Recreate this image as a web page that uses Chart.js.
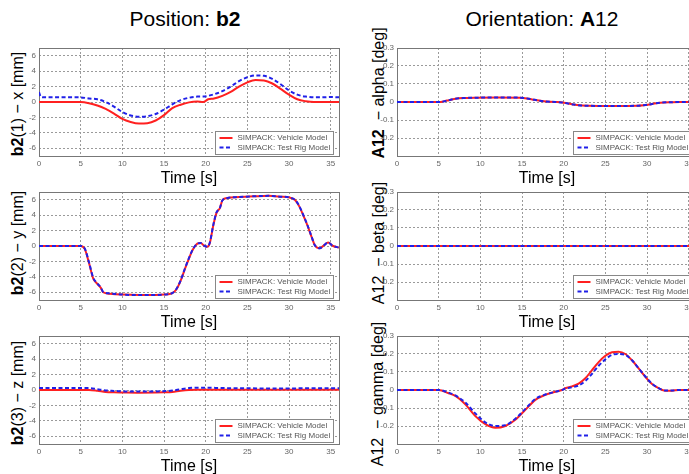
<!DOCTYPE html>
<html><head><meta charset="utf-8">
<script src="https://cdn.jsdelivr.net/npm/chart.js@4"></script>
<style>
html,body{margin:0;padding:0;background:#fff;width:689px;height:474px;overflow:hidden;position:relative;font-family:"Liberation Sans",Arial,sans-serif;}
canvas{position:absolute;}
.t{position:absolute;white-space:nowrap;line-height:1;transform:translate(-50%,-50%);color:#000;}
.yl{position:absolute;white-space:nowrap;line-height:1;font-size:16px;color:#000;transform:translate(-50%,-50%) rotate(-90deg);}
</style></head>
<body>
<div class="t" style="left:185px;top:17.5px;font-size:21px">Position: <b>b2</b></div>
<div class="t" style="left:542px;top:17.5px;font-size:21px">Orientation: <b>A</b>12</div>
<div class="yl" style="left:18px;top:104px"><b>b2</b>(1) − x [mm]</div>
<div class="yl" style="left:18px;top:243px"><b>b2</b>(2) − y [mm]</div>
<div class="yl" style="left:18px;top:393px"><b>b2</b>(3) − z [mm]</div>
<div class="yl" style="left:379px;top:93px"><b>A12</b>&nbsp; − alpha [deg]</div>
<div class="yl" style="left:379px;top:243px">A12&nbsp; − beta [deg]</div>
<div class="yl" style="left:378px;top:394px">A12&nbsp; − gamma [deg]</div>
<canvas id="c1" width="345" height="150" style="left:0px;top:38px"></canvas>
<canvas id="c2" width="358" height="150" style="left:345px;top:38px"></canvas>
<canvas id="c3" width="345" height="150" style="left:0px;top:182px"></canvas>
<canvas id="c4" width="358" height="150" style="left:345px;top:182px"></canvas>
<canvas id="c5" width="345" height="150" style="left:0px;top:326px"></canvas>
<canvas id="c6" width="358" height="150" style="left:345px;top:326px"></canvas>
<script>
const FONT = '"Liberation Sans", Arial, sans-serif';
const seriesNames = ['SIMPACK: Vehicle Model', 'SIMPACK: Test Rig Model'];
const xTicks = [0, 5, 10, 15, 20, 25, 30, 35];
const posTicks = [-6, -4, -2, 0, 2, 4, 6];
const oriTicks = [-0.2, -0.1, 0, 0.1, 0.2, 0.3];

// b2(1) - x [mm]
const tX = [0, 0.2, 0.5, 2, 4, 5, 6, 7, 8, 9, 10, 11, 12, 13, 14, 15, 16, 17, 18, 19, 19.7, 20.3, 21, 22, 23, 24, 25, 26, 27, 28, 29, 30, 31, 32, 33, 34, 35, 36];
const vehX = [0, 0, 0, 0, 0, 0, -0.15, -0.45, -0.9, -1.5, -2.2, -2.6, -2.8, -2.75, -2.4, -1.7, -0.8, -0.35, -0.05, 0.05, 0.0, 0.35, 0.45, 0.8, 1.3, 2.0, 2.55, 2.85, 2.8, 2.4, 1.7, 0.95, 0.35, 0.1, 0, 0, 0, 0];
const rigX = [1.3, 0.7, 0.6, 0.6, 0.6, 0.6, 0.45, 0.35, 0, -0.6, -1.3, -1.75, -1.9, -1.85, -1.55, -1.0, -0.3, 0.25, 0.55, 0.7, 0.7, 0.8, 1.0, 1.4, 2.0, 2.7, 3.2, 3.45, 3.4, 3.0, 2.3, 1.5, 0.95, 0.7, 0.6, 0.6, 0.65, 0.6];

// b2(2) - y [mm]
const tY = [0, 5, 5.5, 6, 6.5, 7, 7.4, 7.7, 8.5, 10, 12, 14, 15, 16, 16.5, 17, 17.5, 18, 18.5, 19, 19.4, 19.8, 20.2, 20.5, 20.9, 21.3, 21.7, 22, 22.5, 24, 26, 27.5, 29, 30, 30.7, 31.2, 31.7, 32.2, 32.7, 33.1, 33.7, 34.2, 34.7, 35.3, 36];
const vehY = [0, 0, -0.4, -2.2, -4.2, -4.9, -5.4, -6.0, -6.2, -6.3, -6.35, -6.35, -6.3, -6.1, -5.6, -4.5, -3.0, -1.6, -0.4, 0.3, 0.4, 0.05, -0.1, 0.4, 2.6, 4.3, 4.9, 5.9, 6.2, 6.35, 6.45, 6.5, 6.4, 6.3, 6.0, 5.2, 4.0, 2.7, 1.2, 0.1, -0.3, 0.1, 0.45, 0.0, -0.2];
const rigY = [0, 0, -0.35, -2.1, -4.1, -4.85, -5.35, -5.95, -6.15, -6.3, -6.35, -6.35, -6.3, -6.1, -5.55, -4.45, -2.95, -1.55, -0.35, 0.3, 0.4, 0.05, -0.1, 0.45, 2.65, 4.35, 4.9, 5.9, 6.2, 6.35, 6.45, 6.5, 6.4, 6.3, 6.0, 5.25, 4.05, 2.75, 1.25, 0.1, -0.3, 0.1, 0.45, 0.0, -0.2];

// b2(3) - z [mm]
const tZ = [0, 6, 7, 8, 9, 10, 12, 14, 15, 16, 17, 18, 19, 20, 22, 25, 28, 30, 32, 34, 36];
const vehZ = [0, 0, -0.1, -0.25, -0.3, -0.32, -0.35, -0.33, -0.3, -0.25, -0.1, 0, 0.03, 0.03, 0.02, 0.02, 0.02, 0.02, 0.02, 0.03, 0.03];
const rigZ = [0.25, 0.25, 0.1, -0.05, -0.12, -0.18, -0.2, -0.18, -0.15, -0.08, 0.1, 0.25, 0.3, 0.3, 0.25, 0.22, 0.2, 0.2, 0.22, 0.22, 0.22];

// A12 - alpha [deg]
const tA = [0, 5.2, 6, 7, 8, 9.5, 12, 14.8, 15.6, 16.5, 17.6, 19, 20, 21, 21.6, 23, 26, 28.8, 29.6, 30.5, 31.6, 33, 34, 36];
const vehA = [0, 0, 0.008, 0.018, 0.022, 0.024, 0.025, 0.024, 0.02, 0.012, 0.004, 0, -0.004, -0.012, -0.017, -0.021, -0.022, -0.021, -0.018, -0.012, -0.004, -0.001, 0, 0];
const rigA = [0, 0, 0.008, 0.018, 0.022, 0.024, 0.025, 0.024, 0.02, 0.012, 0.004, 0, -0.004, -0.012, -0.017, -0.021, -0.022, -0.021, -0.018, -0.012, -0.004, -0.001, 0, 0];

// A12 - beta [deg]
const tB = [0, 9, 18, 27, 36];
const vehB = [0, 0, 0, 0, 0];
const rigB = [0, 0, 0, 0, 0];

// A12 - gamma [deg]
const tG = [0, 5, 6.2, 7, 8.2, 9.4, 10.6, 11.8, 13, 14.2, 15.4, 16.6, 17.8, 19, 19.8, 20.2, 21, 21.8, 22.6, 23.4, 24.2, 25, 25.8, 26.6, 27.4, 28.2, 29, 29.8, 30.6, 31.4, 32.2, 33, 33.8, 36];
const vehG = [0, 0, -0.018, -0.033, -0.08, -0.145, -0.19, -0.21, -0.2, -0.165, -0.11, -0.055, -0.027, -0.01, 0, 0.01, 0.02, 0.035, 0.065, 0.11, 0.155, 0.19, 0.21, 0.213, 0.2, 0.165, 0.12, 0.073, 0.033, 0.01, -0.004, -0.004, 0, 0];
const rigG = [0, 0, -0.015, -0.03, -0.07, -0.13, -0.18, -0.2, -0.195, -0.16, -0.105, -0.05, -0.025, -0.01, 0, 0.008, 0.015, 0.025, 0.05, 0.09, 0.135, 0.17, 0.195, 0.2, 0.195, 0.165, 0.12, 0.075, 0.035, 0.01, -0.003, -0.003, 0, 0];

const boxPlugin = {
  id: 'box',
  beforeDatasetsDraw(chart) {
    const a = chart.chartArea, c = chart.ctx;
    c.save();
    c.strokeStyle = '#777'; c.lineWidth = 1;
    c.strokeRect(Math.round(a.left) + 0.5, Math.round(a.top) + 0.5, Math.round(a.right - a.left), Math.round(a.bottom - a.top));
    c.restore();
  }
};
const legendPlugin = {
  id: 'legbox',
  afterDraw(chart) {
    const a = chart.chartArea, c = chart.ctx;
    const w = 118, h = 23;
    const x = Math.round(a.right - 6 - w) + 0.5, y = Math.round(a.bottom - 2 - h) + 0.5;
    c.save();
    c.fillStyle = '#fff'; c.fillRect(x, y, w, h);
    c.strokeStyle = '#888'; c.lineWidth = 1; c.strokeRect(x, y, w, h);
    c.font = '8px ' + FONT; c.textBaseline = 'middle'; c.textAlign = 'left';
    chart.data.datasets.forEach((ds, i) => {
      const ly = y + 6.5 + i * 9.5;
      c.strokeStyle = ds.borderColor; c.lineWidth = ds.borderWidth;
      c.setLineDash(ds.borderDash || []);
      c.beginPath(); c.moveTo(x + 4, ly); c.lineTo(x + 17, ly); c.stroke();
      c.setLineDash([]);
      c.fillStyle = '#555';
      c.fillText(ds.label, x + 22, ly);
    });
    c.restore();
  }
};

function makeChart(id, padLeft, t, veh, rig, yMin, yMax, yTicks) {
  const pts = arr => t.map((tv, i) => ({x: tv, y: arr[i]}));
  new Chart(document.getElementById(id), {
    type: 'line',
    data: {
      datasets: [
        {label: seriesNames[0], data: pts(veh), borderColor: '#ff2020', borderWidth: 2, pointRadius: 0, cubicInterpolationMode: 'monotone', order: 2},
        {label: seriesNames[1], data: pts(rig), borderColor: '#2020e8', borderWidth: 2, borderDash: [4, 2.5], pointRadius: 0, cubicInterpolationMode: 'monotone', order: 1}
      ]
    },
    options: {
      responsive: false, animation: false, devicePixelRatio: 1,
      layout: {padding: {left: padLeft, right: 6, top: 10, bottom: 0}},
      plugins: {legend: {display: false}, tooltip: {enabled: false}, title: {display: false}},
      scales: {
        x: {
          type: 'linear', min: 0, max: 36,
          afterBuildTicks: ax => { ax.ticks = xTicks.map(v => ({value: v})); },
          afterFit: s => { s.height = 32; },
          ticks: {font: {size: 8, family: FONT}, color: '#666', padding: 3, maxRotation: 0, autoSkip: false},
          grid: {color: '#9a9a9a', drawTicks: false, lineWidth: 1},
          border: {display: false, dash: [2, 2]},
          title: {display: true, text: 'Time [s]', font: {size: 16, family: FONT}, color: '#000', padding: 0}
        },
        y: {
          type: 'linear', min: yMin, max: yMax,
          afterBuildTicks: ax => { ax.ticks = yTicks.map(v => ({value: v})); },
          afterFit: s => { s.width = 20; },
          ticks: {font: {size: 8, family: FONT}, color: '#666', padding: 3, callback: v => (v === 0 ? '0' : String(v))},
          grid: {color: '#9a9a9a', drawTicks: false, lineWidth: 1},
          border: {display: false, dash: [2, 2]}
        }
      }
    },
    plugins: [boxPlugin, legendPlugin]
  });
}

makeChart('c1', 19, tX, vehX, rigX, -7, 7, posTicks);
makeChart('c3', 19, tY, vehY, rigY, -7, 7, posTicks);
makeChart('c5', 19, tZ, vehZ, rigZ, -7, 7, posTicks);
makeChart('c2', 32, tA, vehA, rigA, -0.3, 0.3, oriTicks);
makeChart('c4', 32, tB, vehB, rigB, -0.3, 0.3, oriTicks);
makeChart('c6', 32, tG, vehG, rigG, -0.3, 0.3, oriTicks);
</script>
</body></html>
